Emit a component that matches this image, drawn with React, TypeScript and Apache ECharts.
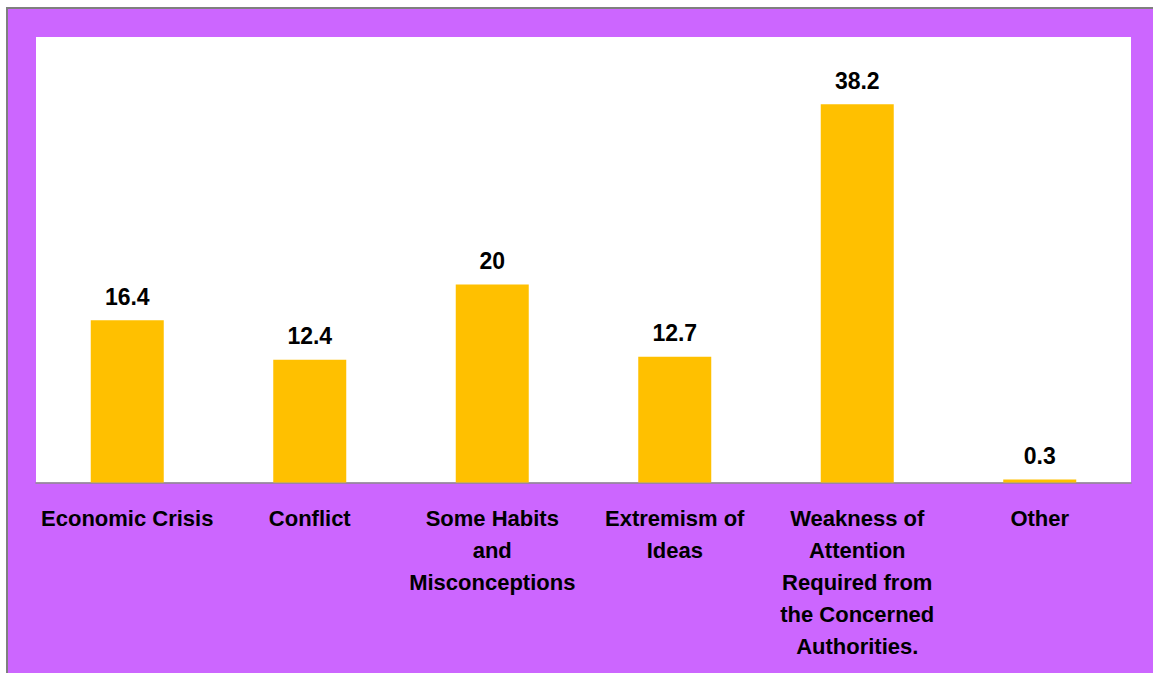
import React, { useEffect, useRef } from "react";
import * as echarts from "echarts";

const categories = [
  "Economic Crisis",
  "Conflict",
  "Some Habits\nand\nMisconceptions",
  "Extremism of\nIdeas",
  "Weakness of\nAttention\nRequired from\nthe Concerned\nAuthorities.",
  "Other",
];
const values = [16.4, 12.4, 20, 12.7, 38.2, 0.3];
const valueLabels = ["16.4", "12.4", "20", "12.7", "38.2", "0.3"];

const FONT = "'Liberation Sans', Arial, sans-serif";

export default function App() {
  const ref = useRef<HTMLDivElement>(null);
  useEffect(() => {
    document.body.style.margin = "0";
    const chart = echarts.init(ref.current!, null, { renderer: "svg" });
    chart.setOption({
      animation: false,
      backgroundColor: "#ffffff",
      graphic: [
        {
          type: "rect",
          z: -10,
          silent: true,
          shape: { x: 7, y: 8, width: 1200, height: 720 },
          style: { fill: "#CC66FF", stroke: "#7f7f7f", lineWidth: 2 },
        },
      ],
      grid: { left: 36, top: 37, right: 22, bottom: 190.5, show: true, backgroundColor: "#ffffff", borderWidth: 0 },
      xAxis: {
        type: "category",
        data: categories,
        axisLine: { show: true, lineStyle: { color: "#8c8c8c", width: 1.5 } },
        axisTick: { show: false },
        axisLabel: {
          interval: 0,
          color: "#000000",
          fontFamily: FONT,
          fontWeight: "bold",
          fontSize: 22,
          lineHeight: 32,
          margin: 20,
        },
      },
      yAxis: {
        type: "value",
        min: 0,
        max: 45,
        show: false,
        splitLine: { show: false },
      },
      series: [
        {
          type: "bar",
          data: values,
          barWidth: "40%",
          itemStyle: { color: "#FFC000" },
          label: {
            show: true,
            position: "top",
            distance: 12,
            color: "#000000",
            fontFamily: FONT,
            fontWeight: "bold",
            fontSize: 23,
            formatter: (p: any) => valueLabels[p.dataIndex],
          },
        },
      ],
    });
    return () => chart.dispose();
  }, []);
  return <div ref={ref} style={{ width: 1153, height: 673 }} />;
}
